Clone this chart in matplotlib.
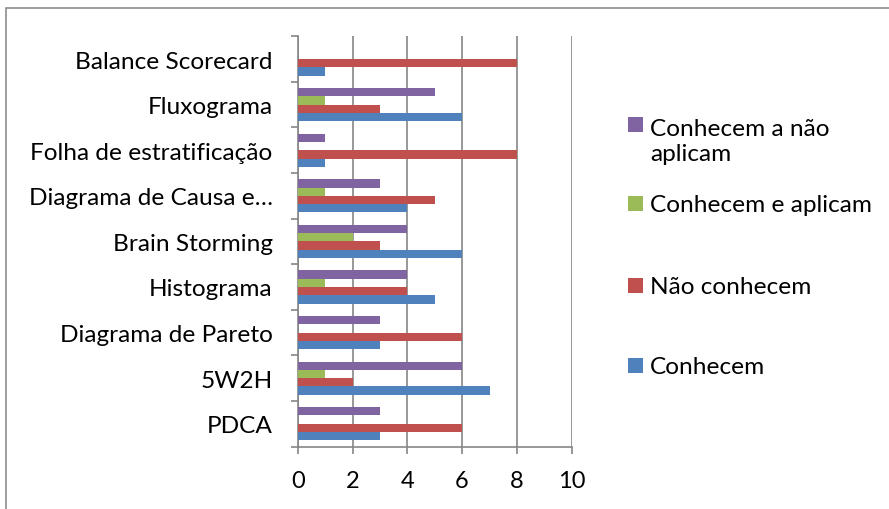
import matplotlib
matplotlib.use("Agg")
import matplotlib.pyplot as plt
from matplotlib.patches import Rectangle
import numpy as np

plt.rcParams['font.family'] = ['Lato', 'DejaVu Sans']

categories = ["PDCA", "5W2H", "Diagrama de Pareto", "Histograma", "Brain Storming",
              "Diagrama de Causa e…", "Folha de estratificação", "Fluxograma", "Balance Scorecard"]
series_names = ["Conhecem", "Não conhecem", "Conhecem e aplicam", "Conhecem a não aplicam"]
conhecem = [3, 7, 3, 5, 6, 4, 1, 6, 1]
nao_conhecem = [6, 2, 6, 4, 3, 5, 8, 3, 8]
conhecem_aplicam = [0, 1, 0, 1, 2, 1, 0, 1, 0]
conhecem_nao_aplicam = [3, 6, 3, 4, 4, 3, 1, 5, 0]
colors = ["#4F81BD", "#C0504D", "#9BBB59", "#8064A2"]
legend_labels = ["Conhecem", "Não conhecem", "Conhecem e aplicam", "Conhecem a não\naplicam"]
xticks = [0, 2, 4, 6, 8, 10]

FS = 17.6
W, H = 889, 510
fig = plt.figure(figsize=(W/100, H/100), dpi=100)
ax = fig.add_axes([297.7/W, 1-447.5/H, (571.7-297.7)/W, (447.5-37.3)/H])

data = [conhecem, nao_conhecem, conhecem_aplicam, conhecem_nao_aplicam]
y = np.arange(len(categories))
h = 0.182
for i, vals in enumerate(data):
    ax.barh(y + (i-1.5)*h, vals, height=h, color=colors[i], zorder=3)

ax.set_xlim(0, 10)
ax.set_ylim(-0.5, len(categories)-0.5)
ax.set_xticks(xticks)
ax.set_xticklabels([str(t) for t in xticks], fontsize=17)
ax.set_yticks(y)
ax.set_yticklabels(categories, fontsize=FS)
ax.set_yticks(np.arange(len(categories)+1)-0.5, minor=True)
ax.tick_params(axis='y', which='major', length=0, pad=18)
ax.tick_params(axis='y', which='minor', length=5, width=1.2, color="#868686", direction='out')
ax.tick_params(axis='x', length=5, width=1.2, color="#868686", direction='out', pad=12)
ax.grid(axis='x', color="#868686", linewidth=1.2, zorder=0)
for s in ['top', 'right']:
    ax.spines[s].set_visible(False)
for s in ['left', 'bottom']:
    ax.spines[s].set_color("#868686")
    ax.spines[s].set_linewidth(1.2)

# chart border
fig.add_artist(Rectangle((6/W, -0.1), 1.2, (H-9)/H + 0.1, transform=fig.transFigure,
                         fill=False, edgecolor="#8c8c8c", linewidth=1.2))

# legend (manual, Excel-like spacing)
leg_centers = [366, 286, 204, 125]
for i in range(4):
    yc = leg_centers[i]
    fig.add_artist(Rectangle((628/W, 1-(yc+7.5)/H), 15/W, 15/H, transform=fig.transFigure,
                             facecolor=colors[i], edgecolor='none'))
    if i == 3:
        fig.text(650/W, 1-(yc+17)/H, legend_labels[i], fontsize=FS, va='center', ha='left',
                 linespacing=1.25)
    else:
        fig.text(650/W, 1-(yc+1)/H, legend_labels[i], fontsize=FS, va='center', ha='left')

fig.savefig("out.png", dpi=100)
